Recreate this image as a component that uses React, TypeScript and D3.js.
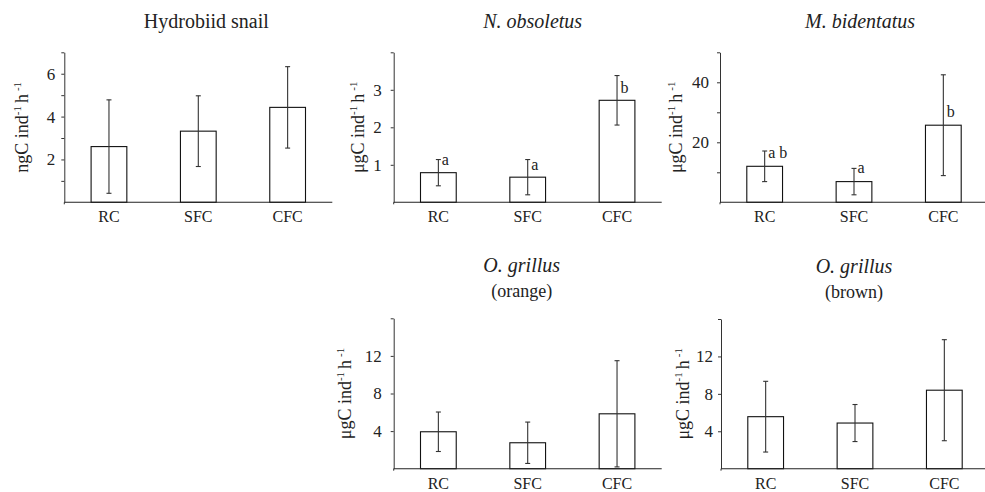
import React, { useEffect, useRef } from "react";
import { select, scaleBand, scaleLinear, axisLeft } from "d3";

const categories = ["RC", "SFC", "CFC"];

// Hydrobiid snail (ngC)
const snailMean = [2.6, 3.32, 4.43];
const snailSd = [2.18, 1.65, 1.9];
const snailTicks = [1, 2, 3, 4, 5, 6, 7];
const snailLabels = [2, 4, 6];

// N. obsoletus (ugC)
const obsoletusMean = [0.79, 0.67, 2.72];
const obsoletusSd = [0.35, 0.47, 0.66];
const obsoletusTicks = [1, 2, 3, 4];
const obsoletusLabels = [1, 2, 3];
const obsoletusLetters = ["a", "a", "b"];
const obsoletusLetterY = [1.0, 0.86, 2.91];

// M. bidentatus (ugC)
const bidentatusMean = [12.0, 6.9, 25.7];
const bidentatusSd = [5.1, 4.4, 16.8];
const bidentatusTicks = [10, 20, 30, 40, 50];
const bidentatusLabels = [20, 40];
const bidentatusLetters = ["a b", "a", "b"];
const bidentatusLetterY = [14.7, 9.7, 28.3];

// O. grillus orange / brown (ugC)
const orangeMean = [3.93, 2.76, 5.84];
const orangeSd = [2.1, 2.2, 5.65];
const brownMean = [5.56, 4.88, 8.39];
const brownSd = [3.78, 1.98, 5.4];
const grillusTicks = [4, 8, 12, 16];
const grillusLabels = [4, 8, 12];

const FONT = "'Liberation Serif', 'Times New Roman', serif";
const PLOT_W = 268;

const Panel = ({
  left, top, bottom, yMax, ticks, labels, means, sds,
  letters = [], letterY = [], title, subtitle, italic = true,
  unit, labelDx, titleDx = 0, tickPad = 8,
}: any) => {
  const axisRef = useRef(null);

  const x = scaleBand().domain(categories).range([left, left + PLOT_W]);
  const y = scaleLinear().domain([0, yMax]).range([bottom, top]);
  const barW = x.bandwidth() * 0.4;

  useEffect(() => {
    const g = select(axisRef.current);
    g.call(
      axisLeft(y)
        .tickValues(ticks)
        .tickSize(3)
        .tickSizeOuter(0)
        .tickPadding(tickPad)
        .tickFormat((d: any) => (labels.includes(d) ? String(d) : ""))
    );
    g.attr("font-family", FONT).attr("font-size", 17);
    g.selectAll("path, line").attr("stroke", "#333");
    g.selectAll("text").attr("fill", "#222");
  }, [y, ticks, labels]);

  const cx = left + PLOT_W / 2;
  const cy = (top + bottom) / 2;

  return (
    <g>
      {/* titles */}
      <text
        x={cx + titleDx}
        y={subtitle ? top - 46 : top - 24}
        textAnchor="middle"
        fontSize={20}
        fontStyle={italic ? "italic" : "normal"}
        fill="#222"
      >
        {title}
      </text>
      {subtitle && (
        <text x={cx + titleDx} y={top - 21} textAnchor="middle" fontSize={18} fill="#222">
          {subtitle}
        </text>
      )}

      {/* y label */}
      <text
        transform={`translate(${left - labelDx},${cy}) rotate(-90)`}
        textAnchor="middle"
        fontSize={18}
        fill="#222"
      >
        {unit}C ind
        <tspan fontSize={11} dy={-7}>-1</tspan>
        <tspan dy={7} dx={3}>h</tspan>
        <tspan fontSize={11} dy={-7} dx={3}>-1</tspan>
      </text>

      {/* bars */}
      {means.map((m: number, i: number) => {
        const bx = (x(categories[i]) as number) + x.bandwidth() / 2;
        const hi = y(m + sds[i]);
        const lo = y(Math.max(0, m - sds[i]));
        return (
          <g key={categories[i]}>
            <rect
              x={bx - barW / 2}
              y={y(m)}
              width={barW}
              height={bottom - y(m)}
              fill="#fff"
              stroke="#111"
              strokeWidth={1.1}
            />
            <line x1={bx} x2={bx} y1={hi} y2={lo} stroke="#333" strokeWidth={1.1} />
            <line x1={bx - 2.5} x2={bx + 2.5} y1={hi} y2={hi} stroke="#333" strokeWidth={1.1} />
            <line x1={bx - 2.5} x2={bx + 2.5} y1={lo} y2={lo} stroke="#333" strokeWidth={1.1} />
            {letters[i] && (
              <text x={bx + 3.5} y={y(letterY[i])} fontSize={16} fill="#222">
                {letters[i]}
              </text>
            )}
            <text x={bx} y={bottom + 20} textAnchor="middle" fontSize={16} fill="#222">
              {categories[i]}
            </text>
          </g>
        );
      })}

      {/* axes */}
      <line x1={left} x2={left + PLOT_W} y1={bottom} y2={bottom} stroke="#222" strokeWidth={1.1} />
      <line x1={left} x2={left} y1={bottom} y2={bottom + 2} stroke="#333" />
      <g ref={axisRef} transform={`translate(${left},0)`} />
    </g>
  );
};

const App = () => {
  return (
    <svg
      width={985}
      height={492}
      style={{ position: "absolute", left: 0, top: 0, background: "#fff" }}
      fontFamily={FONT}
    >
      <Panel
        left={64.3} top={52.3} bottom={202.3} yMax={7}
        ticks={snailTicks} labels={snailLabels}
        means={snailMean} sds={snailSd}
        title="Hydrobiid snail" italic={false} unit="ng" labelDx={36} titleDx={8} tickPad={6}
      />
      <Panel
        left={393.7} top={52.3} bottom={202.3} yMax={4}
        ticks={obsoletusTicks} labels={obsoletusLabels}
        means={obsoletusMean} sds={obsoletusSd}
        letters={obsoletusLetters} letterY={obsoletusLetterY}
        title="N. obsoletus" unit="μg" labelDx={30} titleDx={5} tickPad={9}
      />
      <Panel
        left={720} top={52.3} bottom={202.3} yMax={50}
        ticks={bidentatusTicks} labels={bidentatusLabels}
        means={bidentatusMean} sds={bidentatusSd}
        letters={bidentatusLetters} letterY={bidentatusLetterY}
        title="M. bidentatus" unit="μg" labelDx={38} titleDx={6} tickPad={8}
      />
      <Panel
        left={393.7} top={318.3} bottom={468.7} yMax={16}
        ticks={grillusTicks} labels={grillusLabels}
        means={orangeMean} sds={orangeSd}
        title="O. grillus" subtitle="(orange)" unit="μg" labelDx={43} titleDx={-6} tickPad={9}
      />
      <Panel
        left={721} top={319} bottom={468.7} yMax={16}
        ticks={grillusTicks} labels={grillusLabels}
        means={brownMean} sds={brownSd}
        title="O. grillus" subtitle="(brown)" unit="μg" labelDx={32} titleDx={-1} tickPad={5}
      />
    </svg>
  );
};

export default App;
